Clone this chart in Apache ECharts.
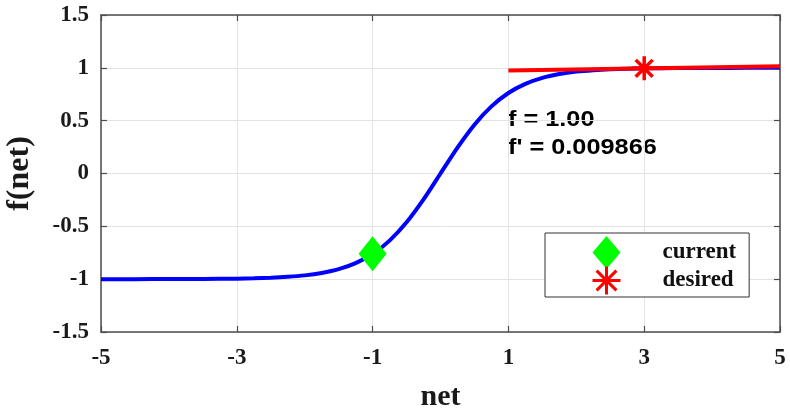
<!DOCTYPE html>
<html>
<head>
<meta charset="utf-8">
<script src="https://cdn.jsdelivr.net/npm/echarts@6/dist/echarts.min.js"></script>
<style>html,body{margin:0;padding:0;background:#fff;}#c{width:790px;height:414px;}</style>
</head>
<body>
<div id="c"></div>
<script>
// net values sampled along the blue curve
var netValues = [-5,-4.5,-4,-3.5,-3,-2.75,-2.5,-2.25,-2,-1.75,-1.5,-1.25,-1,-0.75,-0.5,-0.25,0,0.25,0.5,0.75,1,1.25,1.5,1.75,2,2.25,2.5,2.75,3,3.5,4,4.5,5];
// f(net)
var fValues = [-1.000,-1.000,-0.999,-0.998,-0.995,-0.992,-0.987,-0.978,-0.964,-0.941,-0.905,-0.848,-0.762,-0.635,-0.462,-0.245,0.000,0.245,0.462,0.635,0.762,0.848,0.905,0.941,0.964,0.978,0.987,0.992,0.995,0.998,0.999,1.000,1.000];
// red tangent line end points
var tangentNet = [1, 5];
var tangentF = [0.975, 1.015];
// markers
var currentPoint = [-1, -0.76];
var desiredPoint = [3, 0.995];
// annotation texts
var annotationLines = ["f = 1.00", "f' = 0.009866"];
var xTicks = [-5, -3, -1, 1, 3, 5];
var yTicks = [-1.5, -1, -0.5, 0, 0.5, 1, 1.5];

var curveData = netValues.map(function(x, i){ return [x, fValues[i]]; });
var tangentData = tangentNet.map(function(x, i){ return [x, tangentF[i]]; });
var asteriskPath = 'path://M0,-10L0,10M-10,0L10,0M-7.07,-7.07L7.07,7.07M-7.07,7.07L7.07,-7.07';

var serif = '"Liberation Serif","Times New Roman",serif';
var sans = '"Liberation Sans",Arial,Helvetica,sans-serif';
var axisColor = '#4d4d4d';

var chart = echarts.init(document.getElementById('c'), null, {renderer: 'canvas'});
function baseX(pos, main){
  return {
    type: 'value', position: pos, min: xTicks[0], max: xTicks[xTicks.length-1], interval: 2,
    axisLine: {show: true, onZero: false, lineStyle: {color: axisColor, width: 1.5}},
    axisTick: {show: true, inside: true, length: 6, lineStyle: {color: axisColor, width: 1.2}},
    axisLabel: {show: main, color: '#1a1a1a', fontFamily: serif, fontWeight: 'bold', fontSize: 23, margin: 15},
    splitLine: {show: main, lineStyle: {color: '#e3e3e3', width: 1}},
    name: main ? 'net' : '', nameLocation: 'middle', nameGap: 50,
    nameTextStyle: {color: '#1a1a1a', fontFamily: serif, fontWeight: 'bold', fontSize: 30}
  };
}
function baseY(pos, main){
  return {
    type: 'value', position: pos, min: yTicks[0], max: yTicks[yTicks.length-1], interval: 0.5,
    axisLine: {show: true, onZero: false, lineStyle: {color: axisColor, width: 1.5}},
    axisTick: {show: true, inside: true, length: 6, lineStyle: {color: axisColor, width: 1.2}},
    axisLabel: {show: main, color: '#1a1a1a', fontFamily: serif, fontWeight: 'bold', fontSize: 23, margin: 12},
    splitLine: {show: main, lineStyle: {color: '#e3e3e3', width: 1}},
    name: main ? 'f(net)' : '', nameLocation: 'middle', nameGap: 65, nameRotate: 90,
    nameTextStyle: {color: '#1a1a1a', fontFamily: serif, fontWeight: 'bold', fontSize: 32}
  };
}

var option = {
  animation: false,
  backgroundColor: '#fff',
  grid: {left: 101, right: 10, top: 15, bottom: 82, containLabel: false, outerBoundsMode: 'none'},
  xAxis: [baseX('bottom', true), baseX('top', false)],
  yAxis: [baseY('left', true), baseY('right', false)],
  legend: {
    orient: 'vertical', left: 545, top: 233,
    itemWidth: 28, itemHeight: 33, itemGap: -4,
    padding: [3, 13, 1, 46],
    borderColor: '#333', borderWidth: 1, backgroundColor: '#fff',
    textStyle: {fontFamily: serif, fontWeight: 'bold', fontSize: 23, color: '#111', padding: [0,0,0,37]},
    data: [
      {name: 'current', icon: 'diamond', itemStyle: {color: '#00ff00'}},
      {name: 'desired', icon: asteriskPath, itemStyle: {color: '#ff0000', borderColor: '#ff0000', borderWidth: 3}}
    ]
  },
  series: [
    {type: 'line', name: 'f', data: curveData, smooth: 0.25, showSymbol: false, symbol: 'none',
     lineStyle: {color: '#0000ff', width: 4}, z: 2},
    {type: 'line', name: 'tangent', data: tangentData, showSymbol: false, symbol: 'none',
     lineStyle: {color: '#ff0000', width: 4}, z: 3},
    {type: 'scatter', name: 'current', data: [currentPoint], symbol: 'diamond', symbolSize: [28, 35],
     itemStyle: {color: '#00ff00', opacity: 1}, z: 5},
    {type: 'scatter', name: 'desired', data: [desiredPoint], symbol: asteriskPath, symbolSize: [24, 24],
     itemStyle: {color: '#ff0000', borderColor: '#ff0000', borderWidth: 3.5, opacity: 1}, z: 5}
  ],
  graphic: [
    {type: 'text', x: 508, y: 109, scaleX: 1.15, style: {text: annotationLines[0], fill: '#000', font: 'bold 22px ' + sans}},
    {type: 'text', x: 508, y: 137, scaleX: 1.15, style: {text: annotationLines[1], fill: '#000', font: 'bold 22px ' + sans}}
  ]
};
chart.setOption(option);
</script>
</body>
</html>
